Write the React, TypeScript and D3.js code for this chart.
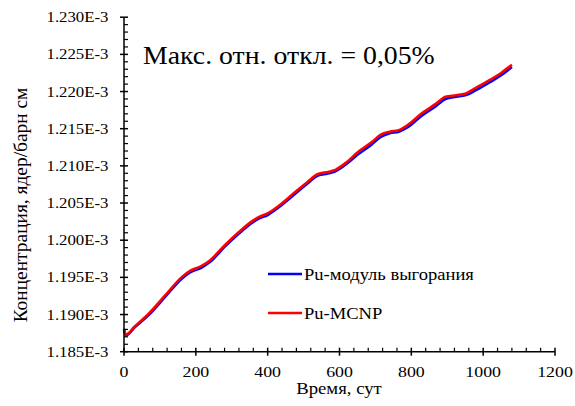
import React from "react";
import * as d3 from "d3";

const days = [0, 5, 30, 70, 115, 160, 185, 215, 240, 280, 320, 355, 375, 400, 430, 470, 510, 540, 570, 590, 620, 650, 690, 715, 740, 765, 790, 830, 870, 895, 925, 950, 980, 1020, 1050, 1080];
const moduleValues = [1.1881, 1.1873, 1.1884, 1.1901, 1.1925, 1.1949, 1.1958, 1.1964, 1.1972, 1.1992, 1.201, 1.2024, 1.203, 1.2035, 1.2045, 1.2061, 1.2077, 1.2088, 1.2091, 1.2094, 1.2104, 1.2116, 1.213, 1.214, 1.2145, 1.2147, 1.2153, 1.2169, 1.2182, 1.2191, 1.2194, 1.2196, 1.2203, 1.2214, 1.2223, 1.2234];
const mcnpValues = [1.1881, 1.1873, 1.1884, 1.1902, 1.1926, 1.195, 1.1959, 1.1965, 1.1973, 1.1993, 1.2011, 1.2025, 1.2031, 1.2036, 1.2046, 1.2062, 1.2078, 1.2089, 1.2092, 1.2095, 1.2105, 1.2118, 1.2132, 1.2142, 1.2146, 1.2148, 1.2155, 1.2171, 1.2184, 1.2193, 1.2195, 1.2197, 1.2205, 1.2216, 1.2225, 1.2236];

const xTicks = [0, 200, 400, 600, 800, 1000, 1200];
const xMinorTicks = [40, 80, 120, 160, 240, 280, 320, 360, 440, 480, 520, 560, 640, 680, 720, 760, 840, 880, 920, 960, 1040, 1080, 1120, 1160];
const yTicks = [1.185, 1.19, 1.195, 1.2, 1.205, 1.21, 1.215, 1.22, 1.225, 1.23];
const yTickLabels = ["1.185E-3", "1.190E-3", "1.195E-3", "1.200E-3", "1.205E-3", "1.210E-3", "1.215E-3", "1.220E-3", "1.225E-3", "1.230E-3"];
const yMinorStep = 0.001;

const seriesNames = ["Pu-модуль выгорания", "Pu-MCNP"];
const title = "Макс. отн. откл. = 0,05%";
const xTitle = "Время, сут";
const yTitle = "Концентрация, ядер/барн см";

const txt = { fontFamily: "Liberation Serif" };

function T(props: { x: number; y: number; size: number; sx?: number; rot?: number; anchor?: string; dy?: string; children: React.ReactNode }) {
  const { x, y, size, sx = 1, rot = 0, anchor = "start", dy, children } = props;
  return (
    <text
      transform={`translate(${x},${y}) rotate(${rot}) scale(${sx},1)`}
      textAnchor={anchor}
      dy={dy}
      fontSize={size}
      fill="#000"
      style={txt}
    >
      {children}
    </text>
  );
}

export default function App() {
  const x = d3.scaleLinear().domain([0, 1200]).range([124, 555]);
  const y = d3.scaleLinear().domain([1.185, 1.23]).range([351.7, 17.2]);

  const yMinor: number[] = [];
  for (let i = 0; i < yTicks.length - 1; i++) {
    for (let k = 1; k < 5; k++) yMinor.push(yTicks[i] + k * yMinorStep);
  }

  const line = d3
    .line<[number, number]>()
    .x((d) => x(d[0]))
    .y((d) => y(d[1]))
    .curve(d3.curveMonotoneX);

  const blue = line(days.map((d, i) => [d, moduleValues[i]]) as [number, number][]) || "";
  const red = line(days.map((d, i) => [d, mcnpValues[i]]) as [number, number][]) || "";

  const x0 = x(0);
  const yBase = y(1.185);

  return (
    <svg width={575} height={406} style={{ position: "absolute", left: 0, top: 0, background: "#fff" }}>
      <rect x={0} y={0} width={575} height={406} fill="#fff" />
      {/* Series */}
      <path d={blue} fill="none" stroke="#0000ff" strokeWidth={2.6} transform="translate(0,0.8)" />
      <path d={red} fill="none" stroke="#ff0000" strokeWidth={2.6} />

      {/* Y axis */}
      <line x1={x0} x2={x0} y1={y(1.23)} y2={yBase} stroke="#000" strokeWidth={1.5} />
      {yTicks.map((t, i) => (
        <g key={"yt" + i}>
          <line x1={x0 - 4} x2={x0 + 4} y1={y(t)} y2={y(t)} stroke="#000" strokeWidth={1.5} />
          <T x={108.5} y={y(t)} dy="0.34em" anchor="end" size={15} sx={1.12}>
            {yTickLabels[i]}
          </T>
        </g>
      ))}
      {yMinor.map((t, i) => (
        <line key={"ym" + i} x1={x0} x2={x0 + 4} y1={y(t)} y2={y(t)} stroke="#000" strokeWidth={1.2} />
      ))}

      {/* X axis */}
      <line x1={x0} x2={x(1200)} y1={yBase} y2={yBase} stroke="#000" strokeWidth={1.5} />
      {xTicks.map((t, i) => (
        <g key={"xt" + i}>
          <line x1={x(t)} x2={x(t)} y1={yBase - 4} y2={yBase + 4} stroke="#000" strokeWidth={1.5} />
          <T x={x(t)} y={376.5} anchor="middle" size={15.5} sx={1.15}>
            {t}
          </T>
        </g>
      ))}
      {xMinorTicks.map((t, i) => (
        <line key={"xm" + i} x1={x(t)} x2={x(t)} y1={yBase - 4} y2={yBase} stroke="#000" strokeWidth={1.2} />
      ))}

      {/* Titles */}
      <T x={339} y={393.5} anchor="middle" size={17.5} sx={1.07}>
        {xTitle}
      </T>
      <T x={27} y={205} rot={-90} anchor="middle" size={18.5} sx={1.05}>
        {yTitle}
      </T>
      <T x={143} y={64} size={25.5} sx={1.09}>
        {title}
      </T>

      {/* Legend */}
      <line x1={268} x2={302} y1={274} y2={274} stroke="#0000ff" strokeWidth={2.6} />
      <T x={304} y={279.5} size={17.5} sx={1.06}>
        {seriesNames[0]}
      </T>
      <line x1={268} x2={302} y1={313} y2={313} stroke="#ff0000" strokeWidth={2.6} />
      <T x={304} y={318.5} size={17.5} sx={1.06}>
        {seriesNames[1]}
      </T>
    </svg>
  );
}
